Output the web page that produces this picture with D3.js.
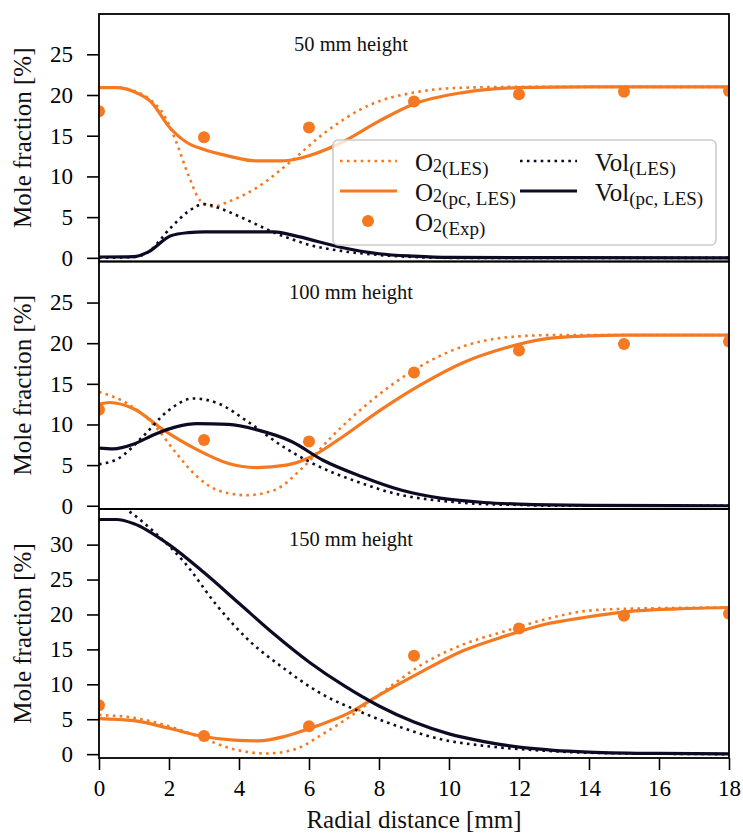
<!DOCTYPE html>
<html>
<head>
<meta charset="utf-8">
<script src="https://cdn.jsdelivr.net/npm/d3@7"></script>
<style>
  body { margin: 0; background: #fff; }
  svg text { font-family: "Liberation Serif", "DejaVu Serif", serif; }
</style>
</head>
<body>
<div id="chart"></div>
<script>
// radial positions of the measurements
const expX = [0, 3, 6, 9, 12, 15, 18];

// 50 mm height
const o2Les50 = [[0,20.9],[0.5,20.9],[1,20.5],[1.5,19.3],[1.85,17.6],[2.2,14.3],[2.55,10.2],[2.9,7.0],[3.25,6.3],[3.7,6.9],[4.5,8.6],[5.5,11.9],[6.4,15.2],[7.8,18.9],[9,20.3],[10.4,20.9],[12,21],[18,21]];
const o2Pc50 = [[0,20.9],[0.5,20.9],[1,20.4],[1.5,19.1],[2,16.1],[2.5,14.2],[3,13.3],[3.7,12.5],[4.5,11.9],[5.2,11.9],[5.8,12.3],[6.9,14.1],[8,16.8],[9,18.9],[10.4,20.3],[12,20.9],[14,21],[18,21]];
const volLes50 = [[0,0],[1,0.1],[1.4,0.7],[2.05,3.7],[2.55,5.7],[3,6.6],[3.5,6.0],[4,5.1],[4.5,4.1],[5,3.1],[5.5,2.3],[6,1.6],[7,0.8],[8,0.35],[9,0.1],[10,0],[18,0]];
const volPc50 = [[0,0.1],[1,0.15],[1.4,0.7],[2.05,2.7],[2.55,3.1],[3,3.2],[5,3.2],[5.7,2.6],[6.9,1.3],[8,0.5],[9,0.2],[10,0.05],[18,0]];
const o2Exp50 = [18.0, 14.8, 16.0, 19.2, 20.1, 20.4, 20.5];

// 100 mm height
const o2Les100 = [[0,14.0],[0.8,12.6],[1.6,9.8],[2.2,6.5],[2.8,3.6],[3.4,1.9],[4.2,1.3],[5,1.9],[5.8,4.6],[6.65,8.5],[7.8,13.0],[9,16.7],[10.4,19.6],[11.6,20.7],[13,21],[18,21]];
const o2Pc100 = [[0,12.5],[0.3,12.7],[1,11.9],[1.85,9.3],[2.8,6.9],[3.7,5.2],[4.5,4.7],[5.35,5.0],[6.05,6.0],[6.9,8.3],[8.05,11.8],[9.2,14.9],[10.4,17.6],[11.6,19.4],[12.7,20.5],[14,20.9],[15,21],[18,21]];
const volLes100 = [[0,5.1],[0.55,5.8],[1.25,8.5],[1.95,11.6],[2.7,13.2],[3.4,12.6],[4.3,10.2],[5.25,7.3],[6.2,5.0],[7.35,3.0],[8.65,1.3],[9.8,0.6],[11,0.2],[12,0.1],[13,0],[18,0]];
const volPc100 = [[0,7.1],[0.4,7.0],[1,7.6],[1.6,8.8],[2.2,9.7],[2.8,10.1],[3.7,10.0],[4.55,9.3],[5.5,7.9],[6.4,5.6],[7.5,3.6],[8.65,1.9],[9.8,0.9],[11,0.4],[12,0.2],[14,0.05],[18,0]];
const o2Exp100 = [11.8, 8.1, 7.9, 16.4, 19.1, 19.9, 20.2];

// 150 mm height
const o2Les150 = [[0,5.6],[1,5.2],[2,4.0],[2.9,2.4],[3.85,0.7],[4.8,0.1],[5.6,0.7],[6.4,2.9],[7.35,6.0],[8.3,9.6],[9.25,12.9],[10.4,15.7],[11.6,17.6],[12.75,19.3],[13.9,20.5],[15,20.8],[18,21]];
const o2Pc150 = [[0,5.1],[1,4.8],[2,3.7],[2.9,2.6],[3.85,2.0],[4.55,1.9],[5.35,2.6],[6.2,4.0],[7.1,5.8],[8.05,8.6],[9.25,11.9],[10.4,14.8],[11.6,16.9],[12.75,18.6],[13.9,19.6],[15.1,20.4],[16.5,20.8],[18,21]];
const volLes150 = [[0,37],[0.85,34.8],[1.6,31.7],[2.45,27.4],[3.35,21.4],[4.3,16.2],[5.25,12.4],[6.3,8.8],[7.5,6.0],[8.65,3.8],[9.8,2.1],[11,1.2],[12.7,0.5],[14,0.2],[18,0]];
const volPc150 = [[0,33.6],[0.5,33.6],[1,33.0],[2,30.0],[3,26.0],[4,21.6],[5,17.2],[6,13.2],[7,9.8],[8,6.9],[9,4.6],[10,2.9],[11,1.8],[12,1.0],[13,0.55],[14,0.3],[16,0.1],[18,0.05]];
const o2Exp150 = [7.0, 2.6, 4.0, 14.1, 18.0, 19.8, 20.1];

const xTicks = [0, 2, 4, 6, 8, 10, 12, 14, 16, 18];
const titles = ["50 mm height", "100 mm height", "150 mm height"];

const orange = "#f47920";
const navy = "#0d0b24";
const serif = "Liberation Serif, DejaVu Serif, serif";

const width = 743, height = 834;
const marginLeft = 99, marginRight = 14;

const panels = [
  { top: 14, bottom: 261.5, y: [-0.45, 29.95], ticks: [0,5,10,15,20,25], les: o2Les50, pc: o2Pc50, vles: volLes50, vpc: volPc50, exp: o2Exp50 },
  { top: 261.5, bottom: 509, y: [-0.4, 30.05], ticks: [0,5,10,15,20,25], les: o2Les100, pc: o2Pc100, vles: volLes100, vpc: volPc100, exp: o2Exp100 },
  { top: 509, bottom: 758, y: [-0.55, 35.1], ticks: [0,5,10,15,20,25,30], les: o2Les150, pc: o2Pc150, vles: volLes150, vpc: volPc150, exp: o2Exp150 }
];

const x = d3.scaleLinear().domain([0, 18]).range([marginLeft, width - marginRight]);

const svg = d3.select("#chart").append("svg")
  .attr("width", width)
  .attr("height", height)
  .attr("viewBox", [0, 0, width, height]);

panels.forEach((p, i) => {
  const y = d3.scaleLinear().domain(p.y).range([p.bottom, p.top]);
  const line = d3.line().x(d => x(d[0])).y(d => y(d[1])).curve(d3.curveMonotoneX);

  svg.append("clipPath").attr("id", "clip" + i)
    .append("rect")
    .attr("x", x(0)).attr("y", p.top)
    .attr("width", x(18) - x(0)).attr("height", p.bottom - p.top);

  const g = svg.append("g").attr("clip-path", `url(#clip${i})`);

  // O2 curves
  g.append("path").datum(p.les)
    .attr("fill", "none").attr("stroke", orange).attr("stroke-width", 2.6)
    .attr("stroke-dasharray", "2.6,4.3").attr("d", line);
  g.append("path").datum(p.pc)
    .attr("fill", "none").attr("stroke", orange).attr("stroke-width", 3.2).attr("d", line);
  g.selectAll(null).data(p.exp).join("circle")
    .attr("cx", (d, k) => x(expX[k])).attr("cy", d => y(d)).attr("r", 6)
    .attr("fill", orange);

  // volatiles
  g.append("path").datum(p.vles)
    .attr("fill", "none").attr("stroke", navy).attr("stroke-width", 2.6)
    .attr("stroke-dasharray", "2.6,4.3").attr("d", line);
  g.append("path").datum(p.vpc)
    .attr("fill", "none").attr("stroke", navy).attr("stroke-width", 3.2).attr("d", line);

  // y axis
  const ya = svg.append("g")
    .attr("transform", `translate(${x(0)},0)`)
    .call(d3.axisLeft(y).tickValues(p.ticks).tickSize(12).tickPadding(14).tickFormat(d3.format("d")))
    .attr("font-family", serif);
  ya.select(".domain").remove();
  ya.selectAll(".tick line").attr("stroke", "#000").attr("stroke-width", 1.6);
  ya.selectAll(".tick text").attr("fill", "#000").attr("font-size", 23)
    .attr("font-family", serif);

  // frame
  svg.append("rect")
    .attr("x", x(0)).attr("y", p.top)
    .attr("width", x(18) - x(0)).attr("height", p.bottom - p.top)
    .attr("fill", "none").attr("stroke", "#000").attr("stroke-width", 1.8);

  svg.append("text")
    .attr("x", x(0) + 0.4 * (x(18) - x(0)))
    .attr("y", p.top + 37)
    .attr("text-anchor", "middle")
    .attr("font-family", serif)
    .attr("font-size", 20.5)
    .attr("fill", "#111")
    .text(titles[i]);

  svg.append("text")
    .attr("transform", `translate(31,${(p.top + p.bottom) / 2}) rotate(-90)`)
    .attr("text-anchor", "middle")
    .attr("font-family", serif)
    .attr("font-size", 25)
    .attr("fill", "#111")
    .text("Mole fraction [%]");
});

// x axis on the bottom panel
const xa = svg.append("g")
  .attr("transform", `translate(0,${panels[2].bottom})`)
  .call(d3.axisBottom(x).tickValues(xTicks).tickSize(12).tickPadding(10))
  .attr("font-family", serif);
xa.select(".domain").remove();
xa.selectAll(".tick line").attr("stroke", "#000").attr("stroke-width", 1.6);
xa.selectAll(".tick text").attr("fill", "#000").attr("font-size", 23)
  .attr("font-family", serif);

svg.append("text")
  .attr("x", (x(0) + x(18)) / 2)
  .attr("y", 828)
  .attr("text-anchor", "middle")
  .attr("font-family", serif)
  .attr("font-size", 25)
  .attr("fill", "#111")
  .text("Radial distance [mm]");

// legend in the top panel
const leg = svg.append("g");
leg.append("rect")
  .attr("x", 333).attr("y", 140).attr("width", 383).attr("height", 105)
  .attr("rx", 5)
  .attr("fill", "#fff").attr("fill-opacity", 0.8)
  .attr("stroke", "#cccccc").attr("stroke-width", 1.6);

const entries = [
  { hx: 340, tx: 415, cy: 161, color: orange, kind: "dot", base: "O", sub1: "2", sub2: "(LES)" },
  { hx: 340, tx: 415, cy: 191, color: orange, kind: "solid", base: "O", sub1: "2", sub2: "(pc, LES)" },
  { hx: 340, tx: 415, cy: 221, color: orange, kind: "marker", base: "O", sub1: "2", sub2: "(Exp)" },
  { hx: 520, tx: 595, cy: 161, color: navy, kind: "dot", base: "Vol", sub1: "", sub2: "(LES)" },
  { hx: 520, tx: 595, cy: 191, color: navy, kind: "solid", base: "Vol", sub1: "", sub2: "(pc, LES)" }
];

entries.forEach(e => {
  if (e.kind === "marker") {
    leg.append("circle").attr("cx", e.hx + 28).attr("cy", e.cy).attr("r", 6).attr("fill", e.color);
  } else {
    leg.append("line")
      .attr("x1", e.hx).attr("x2", e.hx + 57).attr("y1", e.cy).attr("y2", e.cy)
      .attr("stroke", e.color)
      .attr("stroke-width", e.kind === "solid" ? 3.2 : 2.6)
      .attr("stroke-dasharray", e.kind === "solid" ? null : "2.6,4.3");
  }
  const t = leg.append("text")
    .attr("x", e.tx).attr("y", e.cy + 10)
    .attr("font-family", serif)
    .attr("font-size", 25).attr("fill", "#111");
  t.append("tspan").text(e.base);
  if (e.sub1) t.append("tspan").attr("font-size", 18).attr("dy", 1).text(e.sub1);
  t.append("tspan").attr("font-size", 19).attr("dy", e.sub1 ? 3 : 4).text(e.sub2);
});
</script>
</body>
</html>
